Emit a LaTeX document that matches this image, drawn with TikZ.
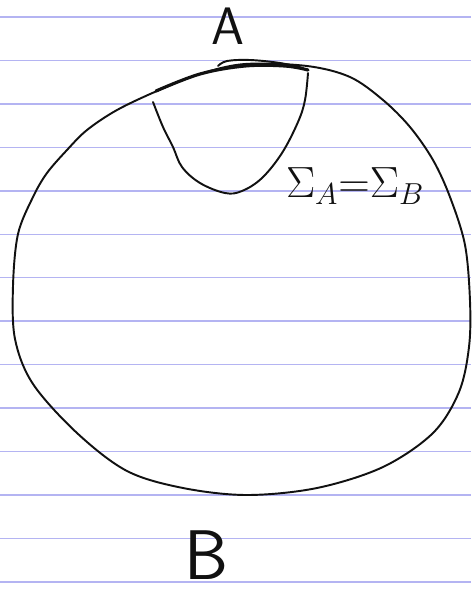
\documentclass[tikz,border=0pt]{standalone}
\usepackage{amsmath}
\usepackage{tikz}
\usetikzlibrary{positioning}
\definecolor{RuleLilac}{HTML}{B4B4F2}
\definecolor{InkBlack}{HTML}{111111}

\begin{document}
\begin{tikzpicture}[x=0.02cm, y=-0.02cm,
  rule/.style={draw=RuleLilac, line width=0.8pt},
  ink/.style={draw=InkBlack, line width=1.1pt, line cap=round, line join=round},
  letter/.style={font=\sffamily, color=InkBlack, inner sep=0pt}
]
\useasboundingbox (0,0) rectangle (471,596);
\fill[white] (0,0) rectangle (471,596);

% ruled paper
\foreach \y in {17,60.45,...,596} {
  \draw[rule] (0,\y) -- (471,\y);
}

% outer region
\draw[ink] plot[smooth cycle, tension=0.55] coordinates {
  (245,64) (307,66) (350,77) (383,100) (410,127) (433,160) (450,197)
  (465,245) (470,301) (469,347) (459,392) (433,433) (383,467) (317,488)
  (247,495) (183,488) (127,471) (77,433) (33,384) (15,339) (13,286)
  (18,234) (33,197) (47,173) (67,150) (87,130) (117,110) (157,91) (200,74)};

% cup hanging from the top edge
\draw[ink] plot[smooth, tension=0.6] coordinates {
  (153,102) (163,127) (173,147) (182,167) (200,183) (225,193) (242,191)
  (262,178) (282,153) (298,122) (305,100) (308,73)};
\draw[ink, line width=1.8pt] plot[smooth, tension=0.6] coordinates {
  (156,91) (200,74) (245,66) (285,66) (308,70)};
\draw[ink] plot[smooth, tension=0.6] coordinates {
  (218,66) (227,61) (250,60) (280,63) (303,68)};

% labels
\node[letter, font=\sffamily\fontsize{30}{30}\selectfont] (lblA) at (228,26) {A};
\node[letter, font=\sffamily\fontsize{40}{40}\selectfont] (lblB) at (206,555) {B};
\node[color=InkBlack, inner sep=0pt, font=\fontsize{25}{25}\selectfont]
  (sigma) at (355,186) {${\Sigma_A}{=}{\Sigma_B}$};
\end{tikzpicture}
\end{document}
